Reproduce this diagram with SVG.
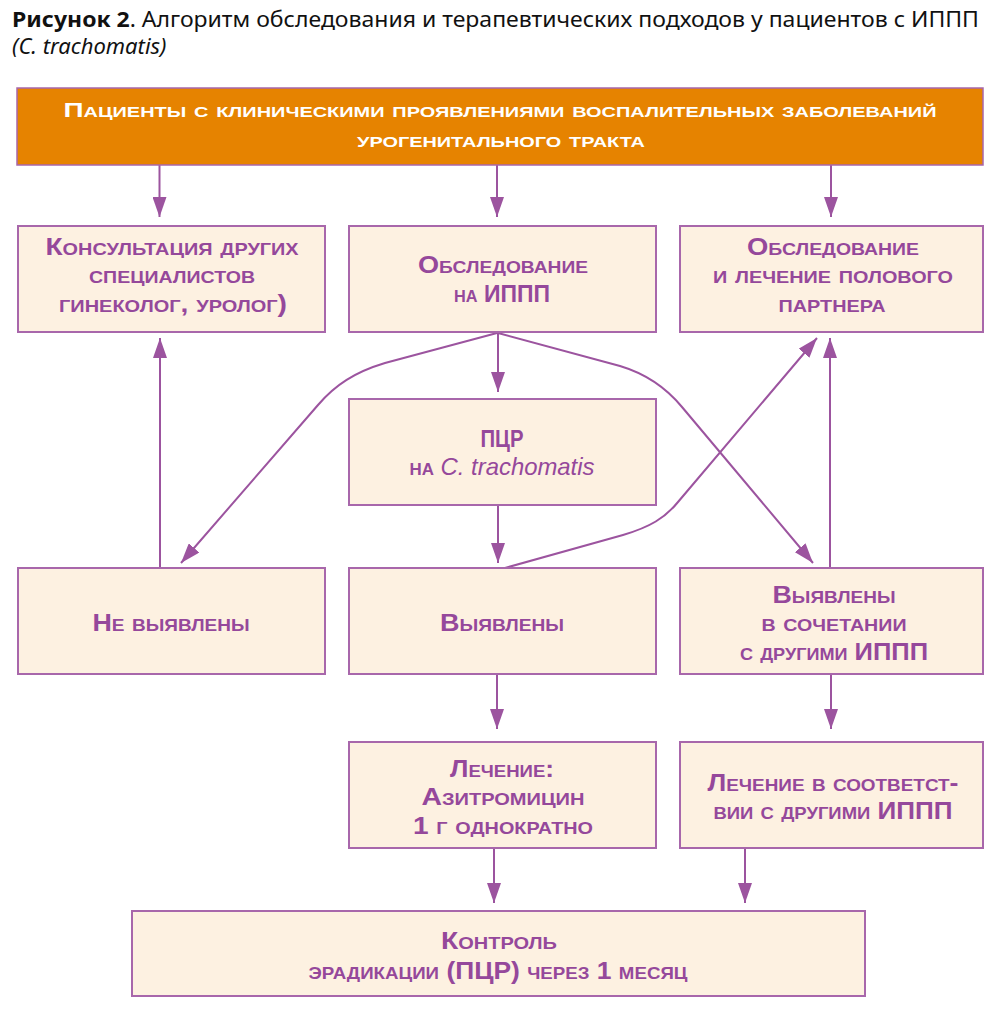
<svg xmlns="http://www.w3.org/2000/svg" width="1000" height="1029" viewBox="0 0 1000 1029">
<defs>
<style>
.box{fill:#fdf1e1;stroke:#a867ab;stroke-width:2}
.t{font-family:"Liberation Sans",Arial,sans-serif;font-size:24px;font-weight:700;fill:#95489b;text-anchor:middle;font-variant:small-caps}
.w{fill:#ffffff;font-size:21px}
.c{fill:none;stroke:#9c549f;stroke-width:2;marker-end:url(#ah)}
.title{font-family:"Noto Sans","DejaVu Sans",sans-serif;font-size:22px;fill:#111}
</style>
<marker id="ah" markerUnits="userSpaceOnUse" markerWidth="20" markerHeight="14" refX="20" refY="7" orient="auto">
<path d="M0,0 L20,7 L0,14 z" fill="#9c549f"/>
</marker>
</defs>
<rect width="1000" height="1029" fill="#ffffff"/>
<g id="title">
<text class="title" x="12" y="27" textLength="967" lengthAdjust="spacingAndGlyphs"><tspan font-weight="700">Рисунок 2</tspan>. Алгоритм обследования и терапевтических подходов у пациентов с ИППП</text>
<text class="title" x="12" y="54" font-style="italic">(C. trachomatis)</text>
</g>
<g id="connectors">
<path class="c" d="M159.5,165 V217"/>
<path class="c" d="M497,165 V217"/>
<path class="c" d="M831,165 V217"/>
<path class="c" d="M498,332 V392"/>
<path class="c" d="M497,333 L385,363 C355,372 335,385 318,405 L181,563"/>
<path class="c" d="M498,333 L620,366 C650,375 668,390 682,407 L813,563"/>
<path class="c" d="M505,568 L623,535 C650,527 665,518 678,502 L817,338"/>
<path class="c" d="M160,568 V338"/>
<path class="c" d="M498,505 V563"/>
<path class="c" d="M830,568 V338"/>
<path class="c" d="M497,674 V729"/>
<path class="c" d="M831,674 V729"/>
<path class="c" d="M494,848 V903"/>
<path class="c" d="M745,848 V903"/>
</g>
<g id="n-top">
<rect x="17" y="88" width="966" height="77" fill="#e68300" stroke="#a867ab" stroke-width="1.5"/>
<text class="t w" x="500" y="117" textLength="873" lengthAdjust="spacingAndGlyphs">Пациенты с клиническими проявлениями воспалительных заболеваний</text>
<text class="t w" x="501" y="147" textLength="288" lengthAdjust="spacingAndGlyphs">урогенитального тракта</text>
</g>
<g id="n-consult">
<rect class="box" x="18" y="226" width="307" height="106"/>
<text class="t" x="172" y="255" textLength="253" lengthAdjust="spacingAndGlyphs">Консультация других</text>
<text class="t" x="172" y="283" textLength="166" lengthAdjust="spacingAndGlyphs">специалистов</text>
<text class="t" x="173" y="312" textLength="228" lengthAdjust="spacingAndGlyphs">гинеколог, уролог)</text>
</g>
<g id="n-exam">
<rect class="box" x="349" y="226" width="307" height="106"/>
<text class="t" x="503" y="273" textLength="170" lengthAdjust="spacingAndGlyphs">Обследование</text>
<text class="t" x="502" y="302" textLength="96" lengthAdjust="spacingAndGlyphs">на ИППП</text>
</g>
<g id="n-partner">
<rect class="box" x="680" y="226" width="303" height="106"/>
<text class="t" x="833" y="255" textLength="172" lengthAdjust="spacingAndGlyphs">Обследование</text>
<text class="t" x="833" y="283" textLength="240" lengthAdjust="spacingAndGlyphs">и лечение полового</text>
<text class="t" x="832" y="312" textLength="107" lengthAdjust="spacingAndGlyphs">партнера</text>
</g>
<g id="n-pcr">
<rect class="box" x="349" y="399" width="307" height="106"/>
<text class="t" x="502" y="447" textLength="43" lengthAdjust="spacingAndGlyphs">ПЦР</text>
<text class="t" x="502" y="475" textLength="185" lengthAdjust="spacingAndGlyphs">на <tspan font-style="italic" font-weight="400" font-variant="normal">C. trachomatis</tspan></text>
</g>
<g id="n-neg">
<rect class="box" x="18" y="568" width="307" height="106"/>
<text class="t" x="171" y="631" textLength="157" lengthAdjust="spacingAndGlyphs">Не выявлены</text>
</g>
<g id="n-pos">
<rect class="box" x="349" y="568" width="307" height="106"/>
<text class="t" x="502" y="631" textLength="124" lengthAdjust="spacingAndGlyphs">Выявлены</text>
</g>
<g id="n-mixed">
<rect class="box" x="680" y="568" width="303" height="106"/>
<text class="t" x="834" y="603" textLength="123" lengthAdjust="spacingAndGlyphs">Выявлены</text>
<text class="t" x="834" y="631" textLength="145" lengthAdjust="spacingAndGlyphs">в сочетании</text>
<text class="t" x="834" y="660" textLength="188" lengthAdjust="spacingAndGlyphs">с другими ИППП</text>
</g>
<g id="n-treat">
<rect class="box" x="349" y="742" width="307" height="106"/>
<text class="t" x="502" y="777" textLength="104" lengthAdjust="spacingAndGlyphs">Лечение:</text>
<text class="t" x="503" y="805" textLength="163" lengthAdjust="spacingAndGlyphs">Азитромицин</text>
<text class="t" x="503" y="834" textLength="180" lengthAdjust="spacingAndGlyphs">1 г однократно</text>
</g>
<g id="n-treat-other">
<rect class="box" x="680" y="742" width="303" height="106"/>
<text class="t" x="833" y="791" textLength="251" lengthAdjust="spacingAndGlyphs">Лечение в соответст-</text>
<text class="t" x="833" y="819" textLength="239" lengthAdjust="spacingAndGlyphs">вии с другими ИППП</text>
</g>
<g id="n-control">
<rect class="box" x="132" y="911" width="733" height="85"/>
<text class="t" x="499" y="949" textLength="116" lengthAdjust="spacingAndGlyphs">Контроль</text>
<text class="t" x="498" y="979" textLength="379" lengthAdjust="spacingAndGlyphs">эрадикации (ПЦР) через 1 месяц</text>
</g>
</svg>
